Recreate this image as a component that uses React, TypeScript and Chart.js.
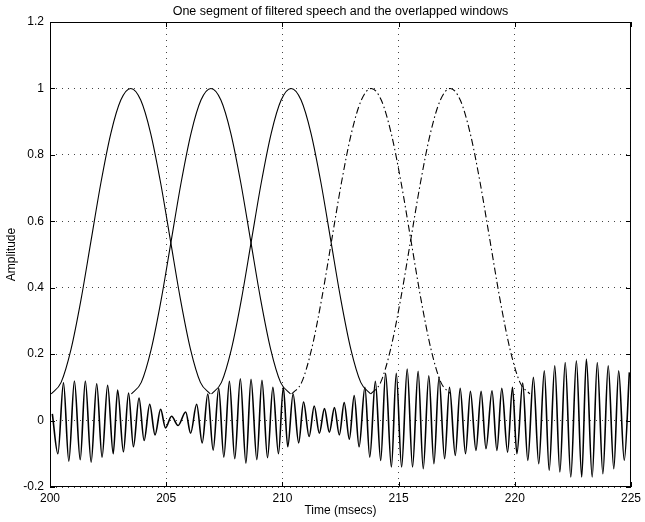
import React, { useEffect, useRef } from "react";
import { Chart, registerables } from "chart.js";

Chart.register(...registerables);

const TITLE = "One segment of filtered speech and the overlapped windows";
const X_LABEL = "Time (msecs)";
const Y_LABEL = "Amplitude";

// filtered speech: times (ms) of successive extrema and their amplitudes
const SPEECH_T = [
  200.1, 200.34, 200.58, 200.81, 201.05, 201.3, 201.52, 201.77, 202.01, 202.24,
  202.48, 202.72, 202.91, 203.16, 203.38, 203.59, 203.83, 204.05, 204.29, 204.52,
  204.76, 204.97, 205.23, 205.51, 205.84, 206.05, 206.31, 206.55, 206.79, 207.02,
  207.26, 207.48, 207.72, 207.95, 208.19, 208.43, 208.65, 208.9, 209.12, 209.36,
  209.59, 209.83, 210.04, 210.23, 210.46, 210.7, 210.91, 211.15, 211.37, 211.59,
  211.81, 212.02, 212.24, 212.45, 212.66, 212.88, 213.09, 213.3, 213.55, 213.76,
  214.0, 214.23, 214.44, 214.69, 214.9, 215.13, 215.37, 215.6, 215.84, 216.06,
  216.3, 216.52, 216.74, 216.98, 217.19, 217.44, 217.65, 217.88, 218.09, 218.33,
  218.55, 218.76, 219.02, 219.23, 219.44, 219.69, 219.9, 220.09, 220.34, 220.56,
  220.8, 221.03, 221.27, 221.48, 221.72, 221.94, 222.17, 222.41, 222.65, 222.88,
  223.08, 223.33, 223.55, 223.79, 224.02, 224.26, 224.47, 224.71, 224.93,
];
const SPEECH_V = [
  0.02, -0.1, 0.114, -0.122, 0.119, -0.118, 0.119, -0.125, 0.111, -0.11,
  0.106, -0.1, 0.092, -0.094, 0.083, -0.079, 0.068, -0.06, 0.049, -0.043,
  0.034, -0.022, 0.013, -0.015, 0.026, -0.038, 0.049, -0.067, 0.08, -0.089,
  0.097, -0.11, 0.118, -0.115, 0.126, -0.128, 0.124, -0.118, 0.121, -0.112,
  0.1, -0.1, 0.1, -0.079, 0.08, -0.067, 0.056, -0.048, 0.044, -0.038,
  0.036, -0.035, 0.039, -0.043, 0.054, -0.056, 0.075, -0.079, 0.1, -0.11,
  0.118, -0.12, 0.142, -0.14, 0.142, -0.14, 0.155, -0.14, 0.148, -0.145,
  0.135, -0.13, 0.13, -0.115, 0.1, -0.105, 0.097, -0.1, 0.088, -0.09,
  0.088, -0.085, 0.09, -0.09, 0.097, -0.095, 0.1, -0.1, 0.113, -0.12,
  0.13, -0.13, 0.15, -0.15, 0.165, -0.155, 0.175, -0.17, 0.18, -0.17,
  0.185, -0.17, 0.175, -0.16, 0.165, -0.145, 0.15, -0.12, 0.145,
];

// overlapped windows: start times, common span, and the shape
const WINDOW_START = [200.05, 203.5, 206.95, 210.4, 213.8];
const WINDOW_SPAN = 6.85;
const WINDOW_SHAPE = [
  0.08, 0.115, 0.215, 0.364, 0.54, 0.716, 0.865, 0.965, 1.0,
  0.965, 0.865, 0.716, 0.54, 0.364, 0.215, 0.115, 0.08,
];
const WINDOW_DASHED = [false, false, false, true, true];

const X_TICKS = [200, 205, 210, 215, 220, 225];
const Y_TICKS = [-0.2, 0, 0.2, 0.4, 0.6, 0.8, 1, 1.2];

const FONT = "'Liberation Sans', Arial, Helvetica, sans-serif";

export default function App() {
  const ref = useRef<HTMLCanvasElement | null>(null);

  useEffect(() => {
    if (!ref.current) return;

    const speech = SPEECH_T.map((t, i) => ({ x: t, y: SPEECH_V[i] }));
    const windows = WINDOW_START.map((s, w) => ({
      data: WINDOW_SHAPE.map((v, k) => ({
        x: s + (WINDOW_SPAN * k) / (WINDOW_SHAPE.length - 1),
        y: v,
      })),
      borderColor: "#000",
      borderWidth: 1.1,
      borderDash: WINDOW_DASHED[w] ? [7, 3, 1.5, 3] : [],
      pointRadius: 0,
      cubicInterpolationMode: "monotone" as const,
      fill: false,
    }));

    const framePlugin = {
      id: "frame",
      afterDatasetsDraw(chart: any) {
        const { ctx, chartArea: a, scales } = chart;
        ctx.save();
        ctx.strokeStyle = "#000";
        ctx.lineWidth = 1;
        ctx.setLineDash([]);
        ctx.strokeRect(a.left + 0.5, a.top + 0.5, a.right - a.left - 1, a.bottom - a.top - 1);
        const L = 5;
        ctx.beginPath();
        X_TICKS.forEach((t) => {
          const x = Math.round(scales.x.getPixelForValue(t)) + 0.5;
          ctx.moveTo(x, a.bottom);
          ctx.lineTo(x, a.bottom - L);
          ctx.moveTo(x, a.top);
          ctx.lineTo(x, a.top + L);
        });
        Y_TICKS.forEach((t) => {
          const y = Math.round(scales.y.getPixelForValue(t)) + 0.5;
          ctx.moveTo(a.left, y);
          ctx.lineTo(a.left + L, y);
          ctx.moveTo(a.right, y);
          ctx.lineTo(a.right - L, y);
        });
        ctx.stroke();
        ctx.fillStyle = "#000";
        ctx.font = `12.5px ${FONT}`;
        ctx.textAlign = "center";
        ctx.textBaseline = "middle";
        ctx.fillText(TITLE, (a.left + a.right) / 2, 12);
        ctx.restore();
      },
    };

    const chart = new Chart(ref.current, {
      type: "line",
      data: {
        datasets: [
          {
            data: speech,
            borderColor: "#000",
            borderWidth: 1.6,
            pointRadius: 0,
            cubicInterpolationMode: "monotone",
            fill: false,
          },
          ...windows,
        ] as any,
      },
      options: {
        animation: false,
        responsive: false,
        maintainAspectRatio: false,
        layout: { padding: { top: 22, right: 11, left: 0, bottom: 0 } },
        plugins: {
          legend: { display: false },
          tooltip: { enabled: false },
          title: { display: false },
        },
        scales: {
          x: {
            type: "linear",
            min: 200,
            max: 225,
            afterBuildTicks: (s: any) => {
              s.ticks = X_TICKS.map((v) => ({ value: v }));
            },
            afterFit: (s: any) => {
              s.height = 35;
            },
            ticks: {
              color: "#000",
              font: { family: FONT, size: 12 },
              padding: 4,
              maxRotation: 0,
              callback: (v: any) => String(v),
            },
            grid: {
              color: "#444",
              lineWidth: 1,
              drawTicks: false,
            },
            border: { display: false, dash: [1, 5] } as any,
            title: {
              display: true,
              text: X_LABEL,
              color: "#000",
              font: { family: FONT, size: 12 },
              padding: { top: 0, bottom: 4 },
            },
          },
          y: {
            type: "linear",
            min: -0.2,
            max: 1.2,
            afterBuildTicks: (s: any) => {
              s.ticks = Y_TICKS.map((v) => ({ value: v }));
            },
            afterFit: (s: any) => {
              s.width = 50;
            },
            ticks: {
              color: "#000",
              font: { family: FONT, size: 12 },
              padding: 6,
              callback: (v: any) => String(Math.round(v * 10) / 10),
            },
            grid: {
              color: "#444",
              lineWidth: 1,
              drawTicks: false,
            },
            border: { display: false, dash: [1, 5] } as any,
            title: {
              display: true,
              text: Y_LABEL,
              color: "#000",
              font: { family: FONT, size: 12 },
              padding: { top: 4, bottom: 0 },
            },
          },
        },
      },
      plugins: [framePlugin],
    } as any);

    return () => chart.destroy();
  }, []);

  return (
    <div style={{ position: "absolute", left: 0, top: 0, width: 645, height: 522, background: "#fff" }}>
      <canvas ref={ref} width={645} height={522} style={{ width: 645, height: 522 }} />
    </div>
  );
}
